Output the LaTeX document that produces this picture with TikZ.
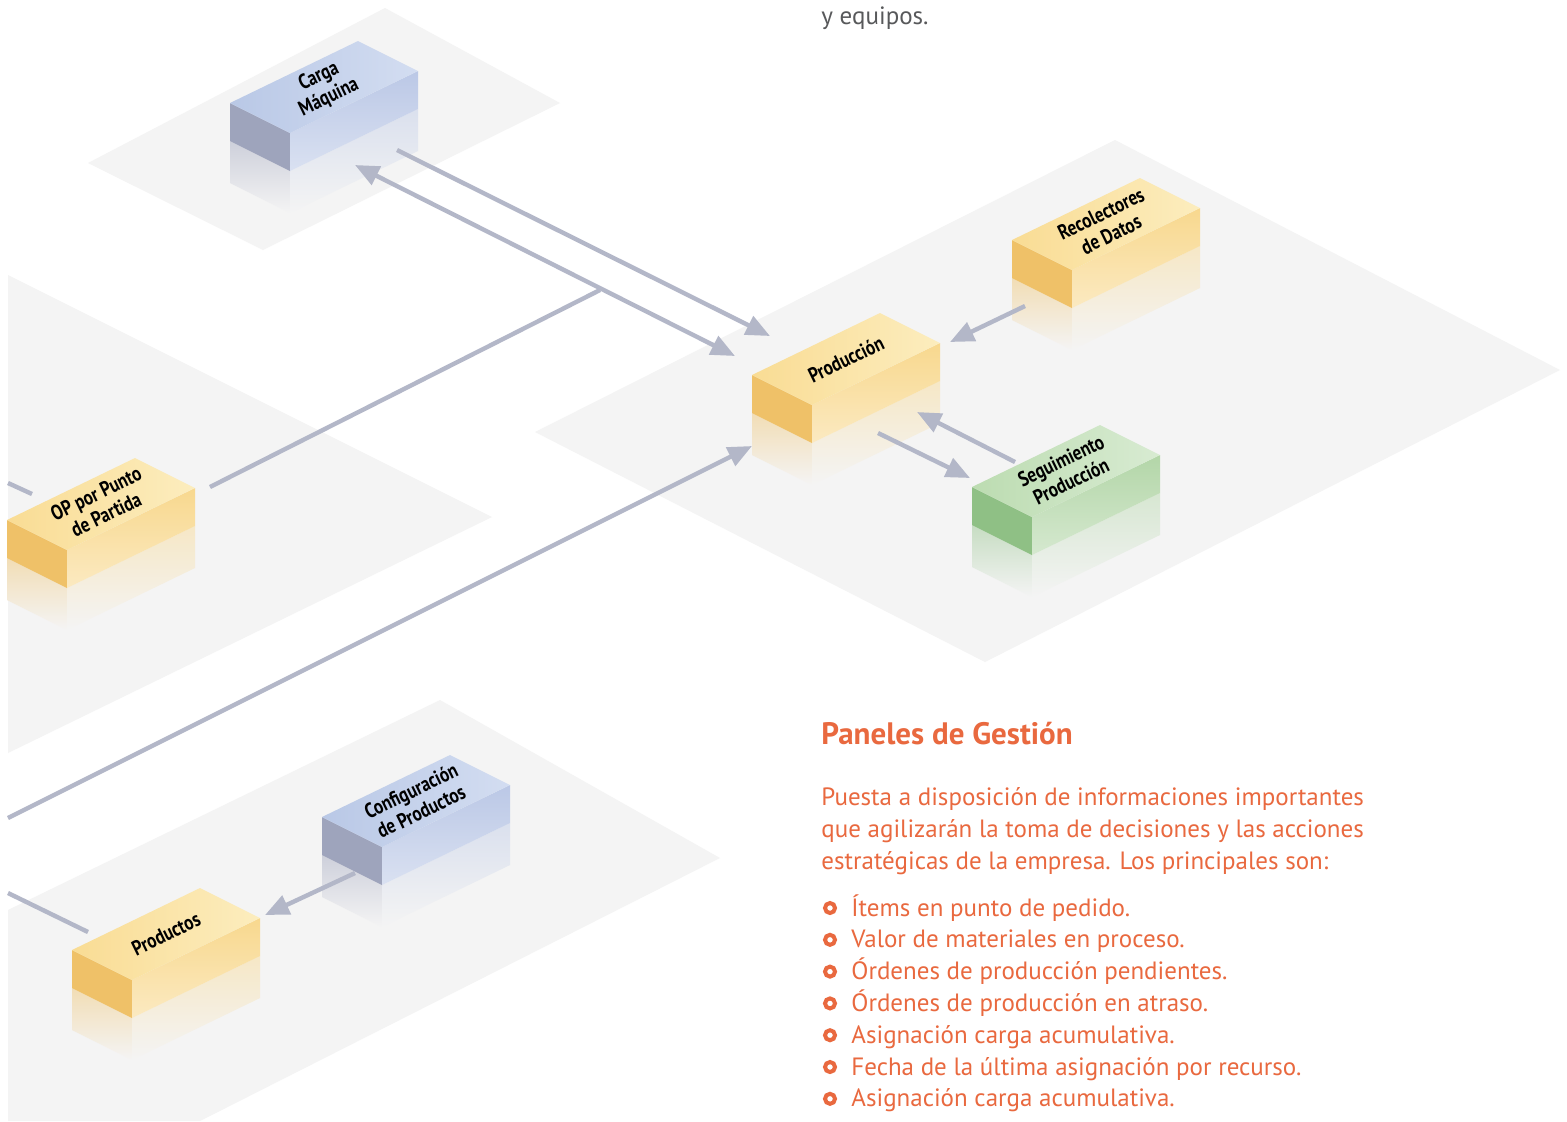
\documentclass[tikz,border=0pt]{standalone}
\usepackage{fontspec}
\setmainfont{PT Sans}
\newfontfamily\boxfont[FakeStretch=0.82]{PT Sans}
\usetikzlibrary{arrows.meta}
\definecolor{plane}{HTML}{F4F4F4}
\definecolor{arrowgray}{HTML}{B3B7C8}
\definecolor{orangetxt}{HTML}{E9693F}
\definecolor{graytxt}{HTML}{58595B}
\definecolor{yelTopA}{HTML}{F9DC94}
\definecolor{yelTopB}{HTML}{FCEDBE}
\definecolor{yelLeft}{HTML}{EFC168}
\definecolor{yelRight}{HTML}{F8D88E}
\definecolor{bluTopA}{HTML}{B9C8E6}
\definecolor{bluTopB}{HTML}{D3DDF1}
\definecolor{bluLeft}{HTML}{9EA4BC}
\definecolor{bluRight}{HTML}{BBC8E6}
\definecolor{grnTopA}{HTML}{BCDCB1}
\definecolor{grnTopB}{HTML}{D8EBD2}
\definecolor{grnLeft}{HTML}{8FC085}
\definecolor{grnRight}{HTML}{B3D6A8}
\def\bh{38}

% brick: name, x, y (near top corner), colour, label
\newcommand{\brick}[5]{%
  \begin{scope}[shift={(#2,#3)}]
    \shade[top color=#4Left!45!plane, bottom color=plane] (-60,8) -- (0,38) -- (0,80) -- (-60,50) -- cycle;
    \shade[top color=#4Right!45!plane, bottom color=plane] (0,38) -- (128,-24) -- (128,18) -- (0,80) -- cycle;
    \fill[#4Left] (-60,-30) -- (0,0) -- (0,\bh) -- (-60,8) -- cycle;
    \shade[top color=#4Right, bottom color=#4Right!55!white] (0,0) -- (128,-62) -- (128,-24) -- (0,\bh) -- cycle;
    \shade[left color=#4TopA, right color=#4TopB] (0,0) -- (-60,-30) -- (68,-92) -- (128,-62) -- cycle;
    \node[brick label] (#1) at (34,-46) {#5};
  \end{scope}}

\begin{document}
\begin{tikzpicture}[x=0.5pt,y=-0.5pt,
  flow/.style={draw=arrowgray, line width=2.2pt, -{Triangle[length=12pt,width=10pt]}},
  link/.style={draw=arrowgray, line width=2.2pt},
  brick label/.style={font=\boxfont\bfseries\fontsize{10.5}{11.5}\selectfont, align=center, rotate=26, inner sep=0pt},
  body/.style={anchor=base west, inner sep=0pt, text=orangetxt, font=\fontsize{12.5}{15}\selectfont},
  ring/.style={draw=orangetxt, line width=2pt}]
\useasboundingbox (0,0) rectangle (1567,1121);
\fill[white] (0,0) rectangle (1567,1121);

% planes
\fill[plane] (88,163) -- (385,8) -- (560,103) -- (263,250) -- cycle;
\fill[plane] (535,432) -- (1115,140) -- (1560,370) -- (985,662) -- cycle;
\fill[plane] (8,275) -- (492,517) -- (8,753) -- cycle;
\fill[plane] (8,910) -- (440,700) -- (720,858) -- (200,1121) -- (8,1121) -- cycle;

% bricks
\brick{carga}{290}{133}{blu}{Carga\\Máquina}
\brick{prod}{812}{405}{yel}{Producción}
\brick{recol}{1072}{270}{yel}{Recolectores\\de Datos}
\brick{segui}{1032}{517}{grn}{Seguimiento\\Producción}
\brick{oppp}{67}{550}{yel}{OP por Punto\\de Partida}
\brick{config}{382}{847}{blu}{Configuración\\de Productos}
\brick{produc}{132}{980}{yel}{Productos}

% connector ends
\coordinate (cm-a) at (397,150);  \coordinate (pr-a) at (770,336);
\coordinate (cm-b) at (355,165);  \coordinate (pr-b) at (735,356);
\coordinate (junc) at (600,290);  \coordinate (op-b) at (210,487);
\coordinate (edge-a) at (8,483);  \coordinate (op-l) at (32,494);
\coordinate (edge-b) at (8,818);  \coordinate (pr-c) at (752,446);
\coordinate (edge-c) at (8,893);  \coordinate (pd-l) at (88,932);
\coordinate (cf-b) at (355,873);  \coordinate (pd-r) at (265,915);
\coordinate (rc-b) at (1025,306); \coordinate (pr-r) at (950,342);
\coordinate (sg-a) at (1015,462); \coordinate (pr-d) at (917,412);
\coordinate (pr-e) at (878,433);  \coordinate (sg-b) at (970,478);

% connectors
\draw[flow] (cm-a) -- (pr-a);
\draw[flow, {Triangle[length=12pt,width=10pt]}-{Triangle[length=12pt,width=10pt]}] (cm-b) -- (pr-b);
\draw[link] (op-b) -- (junc);
\draw[link] (edge-a) -- (op-l);
\draw[flow] (edge-b) -- (pr-c);
\draw[link] (edge-c) -- (pd-l);
\draw[flow] (cf-b) -- (pd-r);
\draw[flow] (rc-b) -- (pr-r);
\draw[flow] (sg-a) -- (pr-d);
\draw[flow] (pr-e) -- (sg-b);

% text
\node[body, text=graytxt] (equipos) at (821,24) {y equipos.};
\node[body, font=\bfseries\fontsize{15.5}{18}\selectfont] (titulo) at (821,744) {Paneles de Gestión};
\node[body] (intro1) at (821,805) {Puesta a disposición de informaciones importantes};
\node[body] (intro2) at (821,837) {que agilizarán la toma de decisiones y las acciones};
\node[body] (intro3) at (821,869) {estratégicas de la empresa. Los principales son:};
\foreach \txt [count=\i] in {Ítems en punto de pedido.,
    Valor de materiales en proceso.,
    Órdenes de producción pendientes.,
    Órdenes de producción en atraso.,
    Asignación carga acumulativa.,
    Fecha de la última asignación por recurso.,
    Asignación carga acumulativa.} {
  \node[body] (item\i) at (851,{916+(\i-1)*31.8}) {\txt};
  \draw[ring] (830,{908+(\i-1)*31.8}) circle (5);
}
\end{tikzpicture}
\end{document}
